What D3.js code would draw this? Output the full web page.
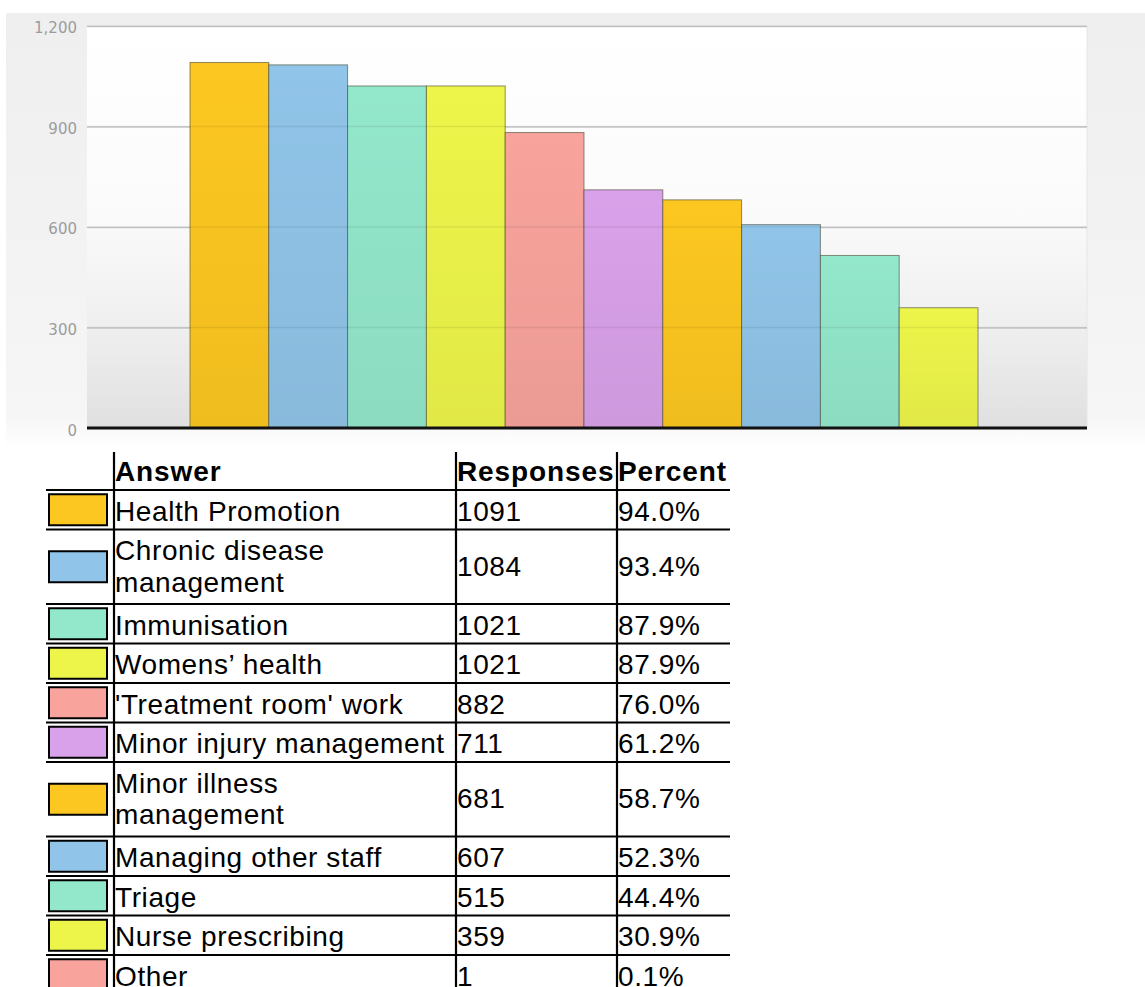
<!DOCTYPE html>
<html>
<head>
<meta charset="utf-8">
<script src="https://cdn.jsdelivr.net/npm/d3@7"></script>
<style>
  html, body { margin: 0; padding: 0; background: #ffffff; }
  svg { display: block; }
</style>
</head>
<body>
<svg id="chart" width="1145" height="987"></svg>
<script>
// Survey answers, response counts and percentages
const categories = [
  "Health Promotion",
  "Chronic disease management",
  "Immunisation",
  "Womens\u2019 health",
  "'Treatment room' work",
  "Minor injury management",
  "Minor illness management",
  "Managing other staff",
  "Triage",
  "Nurse prescribing",
  "Other"
];
const responses = [1091, 1084, 1021, 1021, 882, 711, 681, 607, 515, 359, 1];
const percents = ["94.0%", "93.4%", "87.9%", "87.9%", "76.0%", "61.2%", "58.7%", "52.3%", "44.4%", "30.9%", "0.1%"];
const yTicks = [0, 300, 600, 900, 1200];
const headers = ["Answer", "Responses", "Percent"];
const palette = ["#fcc720", "#90c4e8", "#93e7cb", "#edf54a", "#f8a39c", "#d9a1e9"];

const svg = d3.select("#chart");
const defs = svg.append("defs");

// ---------- bar chart ----------
const plot = { left: 87, right: 1087, top: 26, bottom: 428 };
const y = d3.scaleLinear().domain([0, 1200]).range([plot.bottom, plot.top]);
const x = d3.scaleBand()
  .domain(categories)
  .range([190, 190 + 78.8 * categories.length])
  .padding(0);

const outerGrad = defs.append("linearGradient").attr("id", "outerGrad")
  .attr("x1", 0).attr("y1", 0).attr("x2", 0).attr("y2", 1);
outerGrad.append("stop").attr("offset", 0).attr("stop-color", "#efefef");
outerGrad.append("stop").attr("offset", 0.6).attr("stop-color", "#f3f3f3");
outerGrad.append("stop").attr("offset", 0.93).attr("stop-color", "#f6f6f6");
outerGrad.append("stop").attr("offset", 1).attr("stop-color", "#ffffff");

const plotGrad = defs.append("linearGradient").attr("id", "plotGrad")
  .attr("x1", 0).attr("y1", 0).attr("x2", 0).attr("y2", 1);
plotGrad.append("stop").attr("offset", 0).attr("stop-color", "#ffffff");
plotGrad.append("stop").attr("offset", 0.45).attr("stop-color", "#fbfbfb");
plotGrad.append("stop").attr("offset", 0.75).attr("stop-color", "#efefef");
plotGrad.append("stop").attr("offset", 1).attr("stop-color", "#e0e0e0");

const shade = defs.append("linearGradient").attr("id", "barShade")
  .attr("x1", 0).attr("y1", 0).attr("x2", 0).attr("y2", 1);
shade.append("stop").attr("offset", 0).attr("stop-color", "#000").attr("stop-opacity", 0);
shade.append("stop").attr("offset", 1).attr("stop-color", "#000").attr("stop-opacity", 0.05);

svg.append("rect")
  .attr("x", 6).attr("y", 13).attr("width", 1139).attr("height", 435)
  .attr("fill", "url(#outerGrad)");

svg.append("rect")
  .attr("x", plot.left).attr("y", plot.top)
  .attr("width", plot.right - plot.left).attr("height", plot.bottom - plot.top)
  .attr("fill", "url(#plotGrad)");

svg.append("line")
  .attr("x1", plot.right).attr("x2", plot.right)
  .attr("y1", plot.top).attr("y2", plot.bottom)
  .attr("stroke", "#e6e6e6").attr("stroke-width", 1);

// value axis with gridlines
const yAxis = svg.append("g")
  .attr("transform", `translate(${plot.left},0)`)
  .call(d3.axisLeft(y)
    .tickValues(yTicks)
    .tickSize(-(plot.right - plot.left))
    .tickPadding(10)
    .tickFormat(d3.format(",")));
yAxis.select(".domain").remove();
yAxis.selectAll(".tick line")
  .attr("stroke", "#c9c9c9")
  .attr("stroke-width", 1.5)
  .attr("display", d => d === 0 ? "none" : null);
yAxis.selectAll(".tick text")
  .attr("fill", "#9c9c9c")
  .attr("font-family", "'DejaVu Sans', Verdana, sans-serif")
  .attr("font-size", 15)
  .attr("dy", d => d === 0 ? "0.52em" : "0.45em");

// bars
const bars = svg.append("g");
bars.selectAll("rect.bar")
  .data(categories)
  .join("rect")
  .attr("class", "bar")
  .attr("x", d => x(d))
  .attr("y", (d, i) => y(responses[i]))
  .attr("width", x.bandwidth())
  .attr("height", (d, i) => y(0) - y(responses[i]))
  .attr("fill", (d, i) => palette[i % palette.length])
  .attr("stroke", "rgba(70,70,50,0.6)")
  .attr("stroke-width", 1);
bars.selectAll("rect.shade")
  .data(categories)
  .join("rect")
  .attr("class", "shade")
  .attr("x", d => x(d) + 0.5)
  .attr("y", (d, i) => y(responses[i]) + 0.5)
  .attr("width", x.bandwidth() - 1)
  .attr("height", (d, i) => Math.max(0, y(0) - y(responses[i]) - 1))
  .attr("fill", "url(#barShade)");

// faint gridlines showing through the bars
svg.append("g").selectAll("line")
  .data(yTicks.filter(t => t > 0))
  .join("line")
  .attr("x1", plot.left).attr("x2", plot.right)
  .attr("y1", d => y(d)).attr("y2", d => y(d))
  .attr("stroke", "rgba(0,0,0,0.07)")
  .attr("stroke-width", 1.5);

// baseline
svg.append("line")
  .attr("x1", plot.left).attr("x2", plot.right)
  .attr("y1", y(0)).attr("y2", y(0))
  .attr("stroke", "#111").attr("stroke-width", 3);

// ---------- data table ----------
const table = svg.append("g");
const font = "'Liberation Sans', Arial, Helvetica, sans-serif";
const fontSize = 28;
const letterSpacing = 0.6;
const col = { left: 46, answer: 114, responses: 456, percent: 617, right: 730 };
const headTop = 452, headBottom = 490;
const lineStep = 35;
const singleRow = 39.5;
const textBase = 30.5;
const maxAnswerWidth = col.responses - col.answer - 3;

// measure-based wrapping of the answer labels
const probe = svg.append("text")
  .attr("font-family", font).attr("font-size", fontSize)
  .attr("letter-spacing", letterSpacing);
function wrap(label) {
  const words = label.split(" ");
  const lines = [];
  let cur = "";
  words.forEach(w => {
    const test = cur ? cur + " " + w : w;
    probe.text(test);
    if (cur && probe.node().getComputedTextLength() > maxAnswerWidth) {
      lines.push(cur);
      cur = w;
    } else {
      cur = test;
    }
  });
  if (cur) lines.push(cur);
  return lines;
}
let rowCursor = headBottom;
const rows = categories.map((c, i) => {
  const lines = wrap(c);
  const h = singleRow + lineStep * (lines.length - 1);
  const r = { label: c, lines, top: rowCursor, h, value: responses[i], pct: percents[i], color: palette[i % palette.length] };
  rowCursor += h;
  return r;
});
probe.remove();

// header
table.selectAll("text.head")
  .data(headers)
  .join("text")
  .attr("class", "head")
  .attr("x", (d, i) => [col.answer, col.responses, col.percent][i] + 1)
  .attr("y", 481)
  .attr("font-family", font)
  .attr("font-size", fontSize)
  .attr("font-weight", "bold")
  .attr("letter-spacing", 0.9)
  .attr("fill", "#000")
  .text(d => d);

// swatches
table.selectAll("rect.swatch")
  .data(rows)
  .join("rect")
  .attr("class", "swatch")
  .attr("x", 49)
  .attr("y", d => d.top + d.h / 2 - 15.5)
  .attr("width", 58)
  .attr("height", 31)
  .attr("fill", d => d.color)
  .attr("stroke", "#000")
  .attr("stroke-width", 2);

// answer labels
const answers = table.selectAll("text.answer")
  .data(rows)
  .join("text")
  .attr("class", "answer")
  .attr("font-family", font)
  .attr("font-size", fontSize)
  .attr("letter-spacing", letterSpacing)
  .attr("fill", "#000");
answers.selectAll("tspan")
  .data(d => d.lines.map((l, k) => ({ l, k, top: d.top })))
  .join("tspan")
  .attr("x", col.answer + 1)
  .attr("y", d => d.top + textBase + d.k * 31.5)
  .text(d => d.l);

// responses and percentages
const valueY = d => d.lines.length > 1 ? d.top + d.h / 2 + 9 : d.top + textBase;
table.selectAll("text.resp")
  .data(rows)
  .join("text")
  .attr("class", "resp")
  .attr("x", col.responses + 1)
  .attr("y", valueY)
  .attr("font-family", font)
  .attr("font-size", fontSize)
  .attr("letter-spacing", letterSpacing)
  .text(d => d.value);
table.selectAll("text.pct")
  .data(rows)
  .join("text")
  .attr("class", "pct")
  .attr("x", col.percent + 1)
  .attr("y", valueY)
  .attr("font-family", font)
  .attr("font-size", fontSize)
  .attr("letter-spacing", letterSpacing)
  .text(d => d.pct);

// grid rules
const ruleYs = [headBottom].concat(rows.map(r => r.top + r.h));
table.selectAll("line.hrule")
  .data(ruleYs)
  .join("line")
  .attr("class", "hrule")
  .attr("x1", col.left).attr("x2", col.right)
  .attr("y1", d => d).attr("y2", d => d)
  .attr("stroke", "#000").attr("stroke-width", 2.2);
table.selectAll("line.vrule")
  .data([col.answer, col.responses, col.percent])
  .join("line")
  .attr("class", "vrule")
  .attr("x1", d => d).attr("x2", d => d)
  .attr("y1", headTop).attr("y2", rowCursor + 20)
  .attr("stroke", "#000").attr("stroke-width", 2.2);
</script>
</body>
</html>
